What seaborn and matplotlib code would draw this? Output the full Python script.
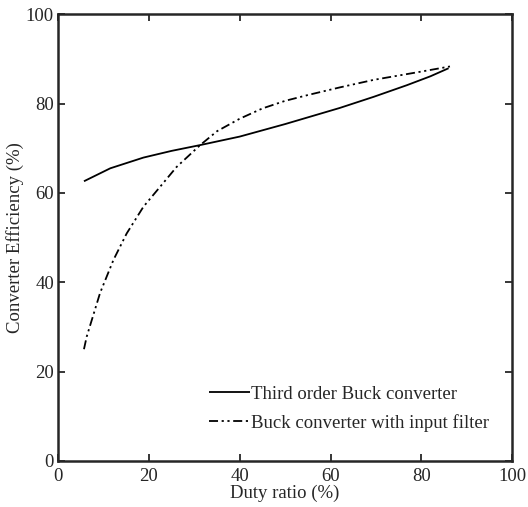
import matplotlib
matplotlib.use("Agg")
import matplotlib.pyplot as plt
import seaborn as sns
import pandas as pd

# values
duty_third = [5.7, 11.5, 18.8, 25.0, 31.3, 40.0, 45.0, 50.0, 55.0, 62.0, 69.5, 76.8, 82.0, 86.0]
eff_third = [62.6, 65.5, 67.9, 69.4, 70.7, 72.6, 74.0, 75.4, 76.9, 79.0, 81.5, 84.1, 86.1, 87.9]

duty_filter = [5.7, 6.3, 9.25, 12.2, 15.1, 18.8, 22.5, 26.1, 31.3, 35.0, 40.0, 45.0, 50.0, 55.0, 62.0, 69.5, 79.7, 86.3]
eff_filter = [25.0, 27.8, 37.6, 45.0, 50.9, 56.9, 61.4, 65.8, 70.7, 73.8, 76.6, 78.9, 80.6, 81.9, 83.6, 85.3, 87.1, 88.3]

label_third = "Third order Buck converter"
label_filter = "Buck converter with input filter"

df = pd.concat([
    pd.DataFrame({"duty": duty_third, "eff": eff_third, "series": label_third}),
    pd.DataFrame({"duty": duty_filter, "eff": eff_filter, "series": label_filter}),
])

sns.set_style("ticks")
plt.rcParams["font.family"] = ["Liberation Serif", "DejaVu Serif"]

fig = plt.figure(figsize=(5.28, 5.07), dpi=100)
ax = fig.add_axes([0.110, 0.091, 0.860, 0.881])

sns.lineplot(data=df, x="duty", y="eff", hue="series", style="series",
             palette=["black", "black"], dashes=[(1, 0), (5, 2, 1.2, 2, 1.2, 2)],
             linewidth=1.3, sort=False, ax=ax)

ax.set_xlim(0, 100)
ax.set_ylim(0, 100)
ax.set_xticks([0, 20, 40, 60, 80, 100])
ax.set_yticks([0, 20, 40, 60, 80, 100])
ax.set_xlabel("Duty ratio (%)", fontsize=13.5, labelpad=0)
ax.set_ylabel("Converter Efficiency (%)", fontsize=13.5, labelpad=1)
ax.tick_params(direction="in", length=5, width=1.3, labelsize=13.5,
               top=True, right=True)
ax.tick_params(axis="x", pad=5)
ax.tick_params(axis="y", pad=3)
for s in ax.spines.values():
    s.set_linewidth(1.8)

ax.legend(title=None, frameon=False, loc="lower left",
          bbox_to_anchor=(0.333, 0.065), borderpad=0, borderaxespad=0,
          fontsize=13.5, handlelength=2.15, handletextpad=0.1, labelspacing=0.6)

fig.savefig("out.png", dpi=100)
